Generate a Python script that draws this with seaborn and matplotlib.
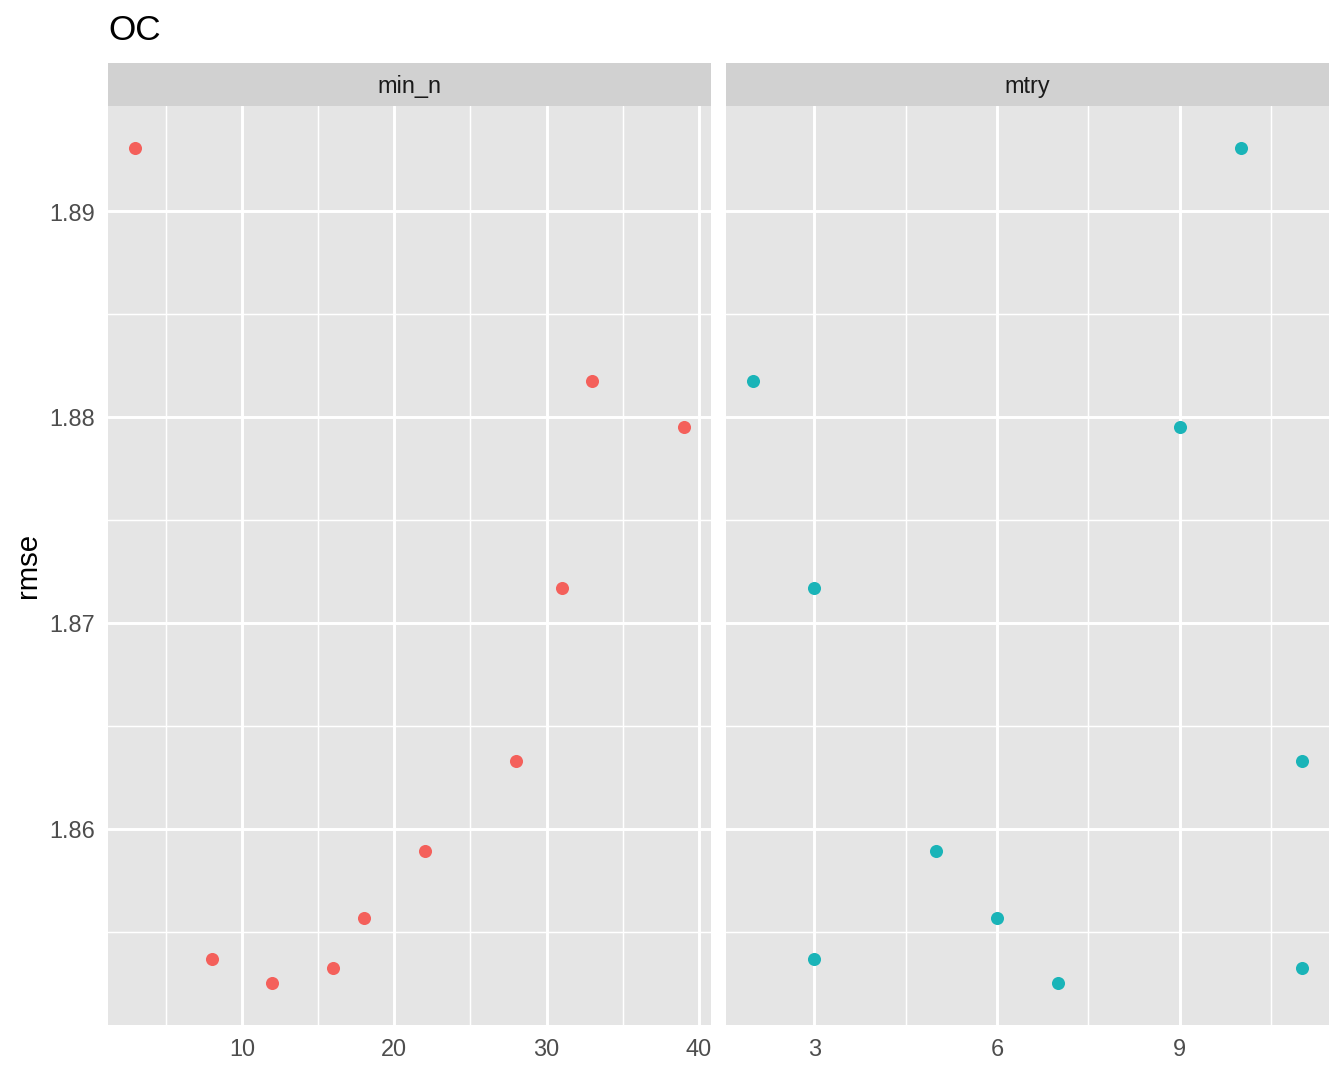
import pandas as pd
import numpy as np
import seaborn as sns
import matplotlib.pyplot as plt
from matplotlib.ticker import FixedLocator

# tuning results (one row per candidate)
min_n = [3, 8, 12, 16, 18, 22, 28, 31, 33, 39]
mtry = [10, 3, 7, 11, 6, 5, 11, 3, 2, 9]
rmse = [1.8931, 1.85368, 1.85251, 1.85324, 1.85567, 1.85893, 1.86331, 1.8717, 1.88175, 1.87951]

params = ["min_n", "mtry"]
colors = ["#F4605B", "#1AB4B8"]

data = pd.DataFrame({"min_n": min_n, "mtry": mtry, "rmse": rmse})
long = data.melt(id_vars="rmse", var_name="parameter", value_name="value")

sns.set_style("white")
plt.rcParams["font.family"] = ["Liberation Sans", "DejaVu Sans"]

fig = plt.figure(figsize=(7, 5.6), dpi=192)

panel_bottom = 1 - 1025 / 1075
panel_top = 1 - 106 / 1075
strip_top = 1 - 63 / 1075
lefts = [108 / 1344, 726 / 1344]
width = (711 - 108) / 1344

major_x = {"min_n": [10, 20, 30, 40], "mtry": [3, 6, 9]}
minor_x = {"min_n": [5, 15, 25, 35], "mtry": [4.5, 7.5, 10.5]}

ymin, ymax = min(rmse), max(rmse)
pad = (ymax - ymin) * 0.05

for i, (p, c) in enumerate(zip(params, colors)):
    ax = fig.add_axes([lefts[i], panel_bottom, width, panel_top - panel_bottom])
    sub = long[long["parameter"] == p]
    sns.scatterplot(data=sub, x="value", y="rmse", color=c, s=24, linewidth=0, ax=ax, zorder=3)
    ax.set_facecolor("#E5E5E5")
    xmin, xmax = sub["value"].min(), sub["value"].max()
    xpad = (xmax - xmin) * 0.05
    ax.set_xlim(xmin - xpad, xmax + xpad)
    ax.set_ylim(ymin - pad, ymax + pad)
    ax.xaxis.set_major_locator(FixedLocator(major_x[p]))
    ax.xaxis.set_minor_locator(FixedLocator(minor_x[p]))
    ax.yaxis.set_major_locator(FixedLocator([1.86, 1.87, 1.88, 1.89]))
    ax.yaxis.set_minor_locator(FixedLocator([1.855, 1.865, 1.875, 1.885]))
    ax.grid(which="major", color="white", linewidth=1.1)
    ax.grid(which="minor", color="white", linewidth=0.55)
    ax.set_axisbelow(True)
    for s in ax.spines.values():
        s.set_visible(False)
    ax.tick_params(which="major", length=2.75, width=1.0, color="#333333",
                   labelsize=8.8, labelcolor="#4D4D4D", pad=2)
    ax.tick_params(which="minor", length=0)
    ax.set_xlabel("")
    if i == 0:
        ax.set_ylabel("rmse", fontsize=11, color="black", labelpad=3)
        ax.set_yticklabels(["1.86", "1.87", "1.88", "1.89"])
    else:
        ax.set_ylabel("")
        ax.tick_params(axis="y", which="both", left=False, labelleft=False)

    strip = fig.add_axes([lefts[i], panel_top, width, strip_top - panel_top])
    strip.set_facecolor("#D1D1D1")
    strip.set_xticks([])
    strip.set_yticks([])
    for s in strip.spines.values():
        s.set_visible(False)
    strip.text(0.5, 0.45, p, ha="center", va="center", fontsize=8.8, color="#1A1A1A",
               transform=strip.transAxes)

fig.text(108 / 1344, 1 - 40 / 1075, "OC", fontsize=13.2, color="black", ha="left", va="baseline")

fig.savefig("out.png", dpi=192)
